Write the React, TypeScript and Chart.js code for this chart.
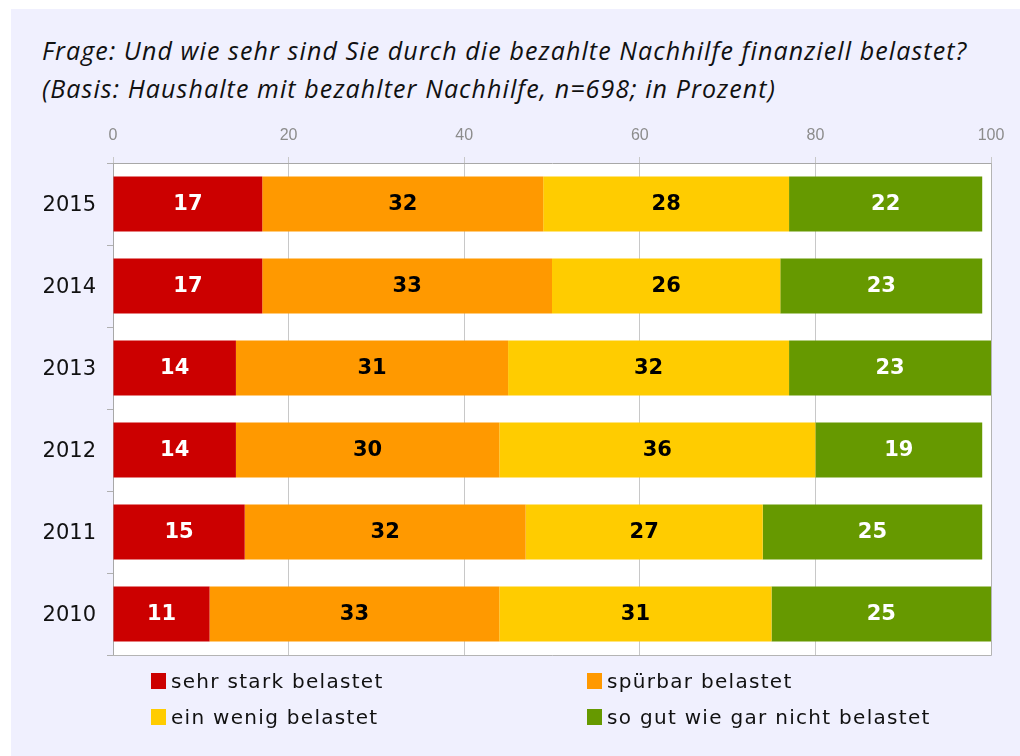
import React, { useEffect, useRef } from "react";
import { Chart, registerables } from "chart.js";

Chart.register(...registerables);

const years = ["2015", "2014", "2013", "2012", "2011", "2010"];
const seriesNames = [
  "sehr stark belastet",
  "spürbar belastet",
  "ein wenig belastet",
  "so gut wie gar nicht belastet",
];
const sehrStark = [17, 17, 14, 14, 15, 11];
const spuerbar = [32, 33, 31, 30, 32, 33];
const einWenig = [28, 26, 32, 36, 27, 31];
const garNicht = [22, 23, 23, 19, 25, 25];
const xTicks = [0, 20, 40, 60, 80, 100];

const colors = ["#CC0000", "#FF9900", "#FFCC00", "#669900"];
const labelColors = ["#ffffff", "#000000", "#000000", "#ffffff"];

const titleLines = [
  "Frage: Und wie sehr sind Sie durch die bezahlte Nachhilfe finanziell belastet?",
  "(Basis: Haushalte mit bezahlter Nachhilfe, n=698; in Prozent)",
];

const plotDecor = {
  id: "plotDecor",
  beforeDraw(chart: any) {
    const { ctx, chartArea } = chart;
    ctx.save();
    ctx.fillStyle = "#ffffff";
    ctx.fillRect(chartArea.left, chartArea.top, chartArea.right - chartArea.left, chartArea.bottom - chartArea.top);
    ctx.restore();
  },
  afterDatasetsDraw(chart: any) {
    const { ctx, chartArea } = chart;
    ctx.save();
    ctx.strokeStyle = "#b4b4b4";
    ctx.lineWidth = 1;
    ctx.beginPath();
    ctx.moveTo(Math.round(chartArea.left), Math.round(chartArea.bottom) + 0.5);
    ctx.lineTo(Math.round(chartArea.right) + 0.5, Math.round(chartArea.bottom) + 0.5);
    ctx.lineTo(Math.round(chartArea.right) + 0.5, Math.round(chartArea.top));
    ctx.stroke();
    ctx.font = "bold 21px 'DejaVu Sans'";
    ctx.textAlign = "center";
    ctx.textBaseline = "middle";
    chart.data.datasets.forEach((ds: any, di: number) => {
      const meta = chart.getDatasetMeta(di);
      meta.data.forEach((el: any, i: number) => {
        const v = ds.data[i];
        ctx.fillStyle = labelColors[di];
        ctx.fillText(String(v), (el.x + el.base) / 2, el.y + 1);
      });
    });
    ctx.restore();
  },
};

export default function App() {
  const canvasRef = useRef<HTMLCanvasElement | null>(null);

  useEffect(() => {
    const values = [sehrStark, spuerbar, einWenig, garNicht];
    const chart = new Chart(canvasRef.current as HTMLCanvasElement, {
      type: "bar",
      data: {
        labels: years,
        datasets: values.map((d, i) => ({
          label: seriesNames[i],
          data: d,
          backgroundColor: colors[i],
          borderWidth: 0,
          categoryPercentage: 1,
          barPercentage: 0.67,
        })),
      },
      options: {
        indexAxis: "y",
        responsive: false,
        animation: false,
        devicePixelRatio: 1,
        layout: { padding: { left: 0, top: 0, right: 29, bottom: 101 } },
        plugins: {
          legend: { display: false },
          tooltip: { enabled: false },
          title: { display: false },
        },
        scales: {
          x: {
            type: "linear",
            position: "top",
            stacked: true,
            min: 0,
            max: 100,
            afterBuildTicks: (scale: any) => {
              scale.ticks = xTicks.map((v) => ({ value: v }));
            },
            afterFit: (scale: any) => {
              scale.height = 163;
            },
            ticks: {
              font: { family: "'Liberation Sans'", size: 16 },
              color: "#8c8c8c",
              padding: 12,
            },
            grid: {
              color: "#c8c8c8",
              lineWidth: 1,
              tickLength: 6,
              drawTicks: true,
            },
            border: { display: true, color: "#a8a8a8" },
          },
          y: {
            type: "category",
            stacked: true,
            afterFit: (scale: any) => {
              scale.width = 113;
            },
            ticks: {
              font: { family: "'DejaVu Sans'", size: 21 },
              color: "#111111",
              padding: 11,
              labelOffset: 2,
            },
            grid: {
              drawOnChartArea: false,
              drawTicks: true,
              tickLength: 6,
              color: "#b0b0b0",
              offset: true,
            },
            border: { display: true, color: "#a8a8a8" },
          },
        },
      },
      plugins: [plotDecor],
    } as any);
    return () => chart.destroy();
  }, []);

  const legendPos = [
    { left: 151, top: 673 },
    { left: 587, top: 673 },
    { left: 151, top: 709 },
    { left: 587, top: 709 },
  ];

  return (
    <div style={{ position: "absolute", left: 0, top: 0, width: 1020, height: 756, background: "#ffffff", overflow: "hidden" }}>
      <div style={{ position: "absolute", left: 11, top: 9, right: 0, bottom: 0, background: "#F0F0FE" }} />
      <div
        style={{
          position: "absolute",
          left: 42,
          top: 31,
          fontFamily: "'Open Sans', sans-serif",
          fontStyle: "italic",
          fontSize: 25,
          letterSpacing: "1.1px",
          lineHeight: "38px",
          color: "#111111",
          whiteSpace: "nowrap",
        }}
      >
        {titleLines.map((t, i) => (
          <div key={i}>{t}</div>
        ))}
      </div>
      <canvas ref={canvasRef} width={1020} height={756} style={{ position: "absolute", left: 0, top: 0 }} />
      {seriesNames.map((name, i) => (
        <div
          key={name}
          style={{
            position: "absolute",
            left: legendPos[i].left,
            top: legendPos[i].top,
            height: 16,
            display: "flex",
            alignItems: "center",
            whiteSpace: "nowrap",
          }}
        >
          <div style={{ width: 15, height: 16, background: colors[i], marginRight: 5 }} />
          <span
            style={{
              fontFamily: "'DejaVu Sans', sans-serif",
              fontSize: 20,
              letterSpacing: "1.3px",
              color: "#111111",
              lineHeight: "16px",
            }}
          >
            {name}
          </span>
        </div>
      ))}
    </div>
  );
}
